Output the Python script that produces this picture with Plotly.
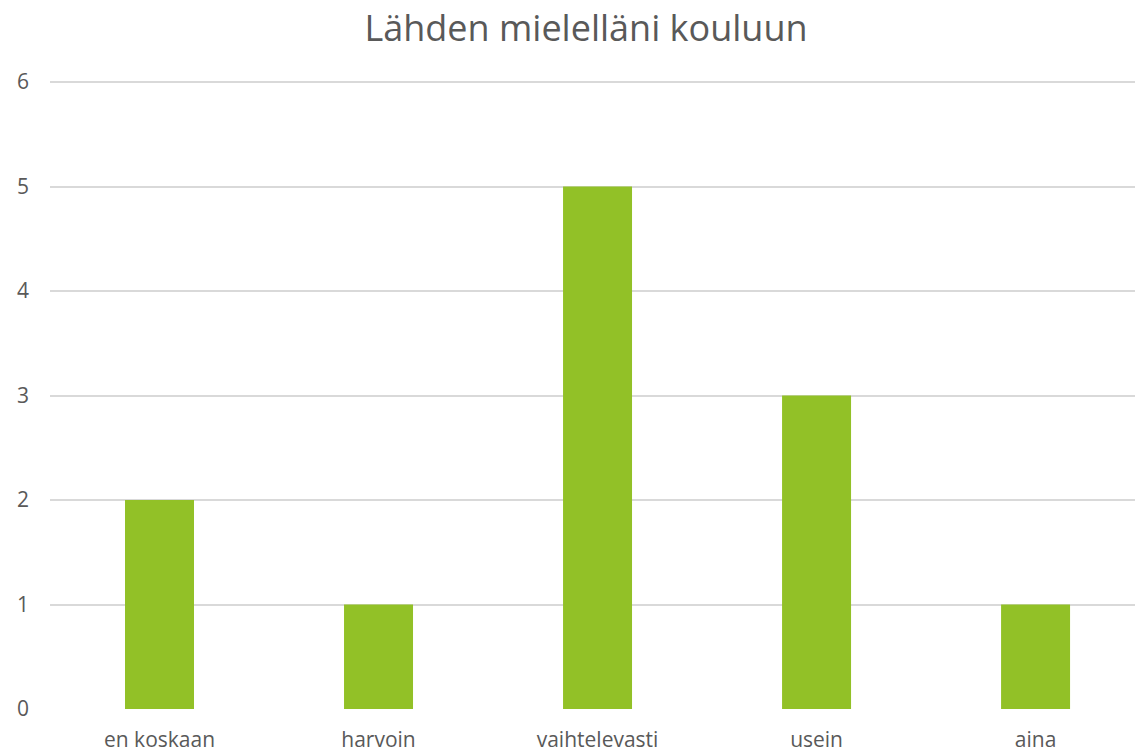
import plotly.graph_objects as go

categories = ["en koskaan", "harvoin", "vaihtelevasti", "usein", "aina"]
values = [2, 1, 5, 3, 1]
y_ticks = [0, 1, 2, 3, 4, 5, 6]
title_text = "Lähden mielelläni kouluun"

TEXT = "#595959"
FONT = "Open Sans"

fig = go.Figure(go.Bar(
    x=categories, y=values, marker=dict(color="#92C127", line=dict(width=0)),
    hoverinfo="x+y",
))

fig.update_layout(
    width=1135, height=752,
    paper_bgcolor="white", plot_bgcolor="white",
    margin=dict(l=50, r=0, t=81, b=43),
    bargap=0.685,
    showlegend=False,
    font=dict(family=FONT, color=TEXT, size=21),
    title=dict(text=title_text, x=586 / 1135, xref="container", xanchor="center",
               y=1 - 28 / 752, yref="container", yanchor="middle",
               font=dict(family=FONT, size=36, color=TEXT)),
    xaxis=dict(range=[-0.5, 4.454], showgrid=False, showline=False, zeroline=False,
               ticks="", ticklabelstandoff=16, tickfont=dict(size=21, color=TEXT)),
    yaxis=dict(range=[0, 6.01], tickvals=y_ticks, showgrid=True, gridcolor="#D9D9D9",
               gridwidth=1.5, zeroline=False, showline=False, ticks="",
               ticklabelstandoff=20, tickfont=dict(size=21, color=TEXT)),
)

fig.write_html("out.html", config={"displayModeBar": False},
               post_script="document.body.style.margin='0';")
